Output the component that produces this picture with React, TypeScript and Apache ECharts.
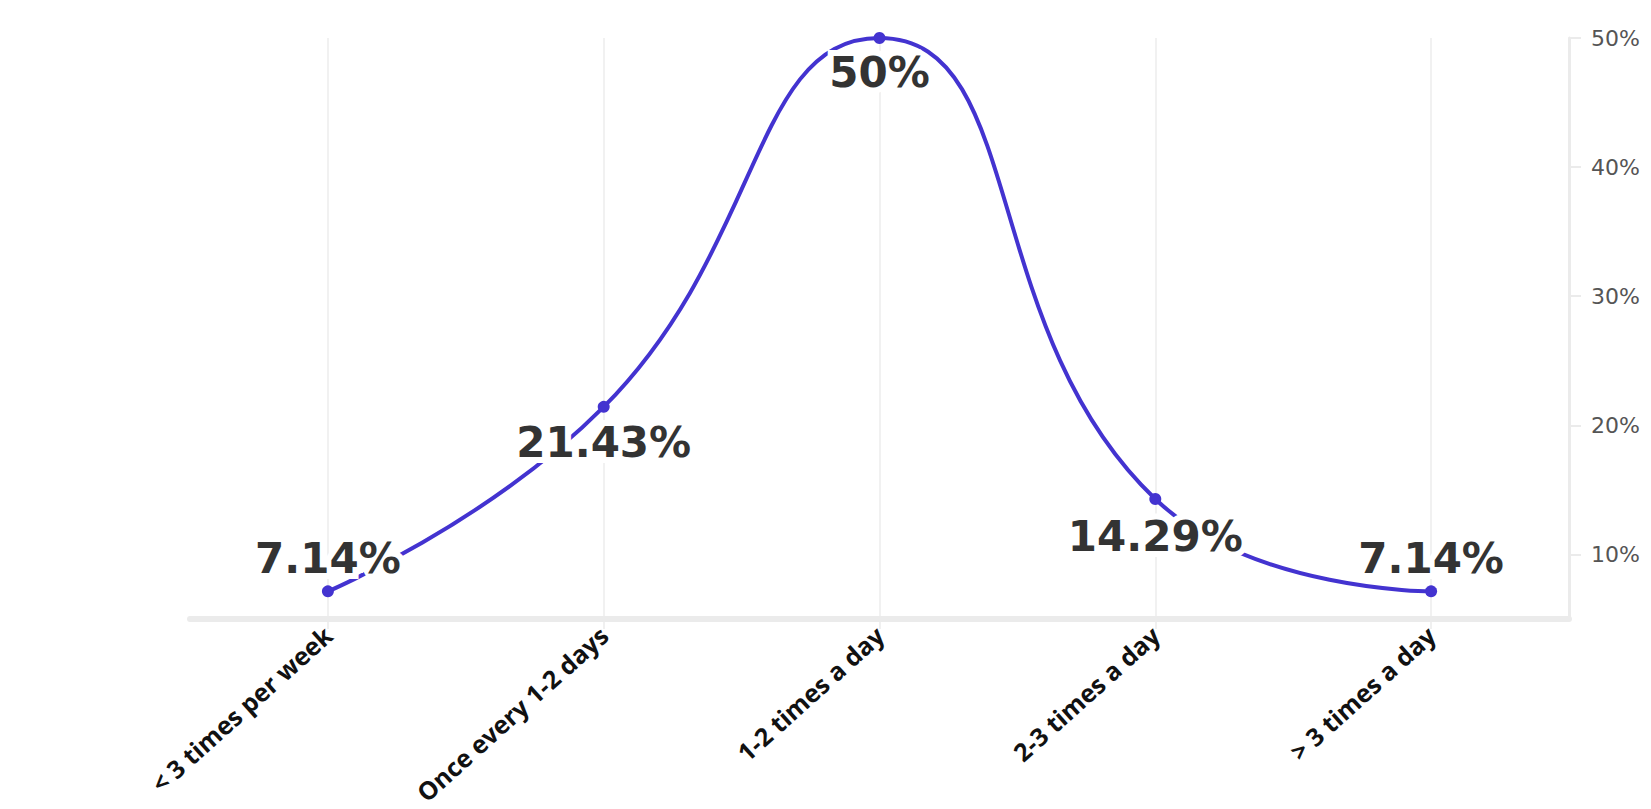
import React, { useEffect, useRef } from "react";
import * as echarts from "echarts";

// Survey answers: how often people do it, share of respondents (%)
const categories = [
  "< 3 times per week",
  "Once every 1-2 days",
  "1-2 times a day",
  "2-3 times a day",
  "> 3 times a day",
];
const shares = [7.14, 21.43, 50, 14.29, 7.14];
const yTicks = [10, 20, 30, 40, 50];

// Vertical nudge of each value label relative to its point (px)
const labelShift = [-33, 36, 34, 37, -33];

const LINE_COLOR = "#4333d0";
const AXIS_GRAY = "#ebebeb";

export default function App() {
  const ref = useRef<HTMLDivElement>(null);

  useEffect(() => {
    if (!ref.current) return;
    const chart = echarts.init(ref.current, null, { renderer: "svg" });

    chart.setOption({
      animation: false,
      backgroundColor: "#ffffff",
      grid: {
        left: 190,
        right: 82,
        top: 38,
        bottom: 190,
        containLabel: false,
        outerBoundsMode: "none",
      },
      xAxis: {
        type: "category",
        data: categories,
        boundaryGap: true,
        axisLine: { show: true, lineStyle: { color: AXIS_GRAY, width: 6 } },
        axisTick: {
          show: true,
          alignWithLabel: true,
          length: 10,
          lineStyle: { color: AXIS_GRAY, width: 1.5 },
        },
        axisLabel: {
          rotate: 42,
          margin: 12,
          color: "#111111",
          fontFamily: "Open Sans",
          fontWeight: "bold",
          fontSize: 25,
        },
        splitLine: { show: false },
      },
      yAxis: {
        type: "value",
        position: "right",
        min: 5,
        max: 50,
        splitLine: { show: false },
        axisLine: { show: true, lineStyle: { color: AXIS_GRAY, width: 3 } },
        axisTick: {
          show: true,
          length: 12,
          customValues: yTicks,
          lineStyle: { color: AXIS_GRAY, width: 2 },
        },
        axisLabel: {
          customValues: yTicks,
          margin: 22,
          color: "#555555",
          fontFamily: "DejaVu Sans",
          fontSize: 22,
          formatter: "{value}%",
        },
      },
      series: [
        {
          type: "line",
          data: shares.map((v, i) => ({
            value: v,
            label: { offset: [0, labelShift[i]] },
          })),
          smooth: 0.5,
          symbol: "circle",
          symbolSize: 12,
          itemStyle: { color: LINE_COLOR },
          lineStyle: { color: LINE_COLOR, width: 4 },
          label: {
            show: true,
            position: "inside",
            formatter: (p: any) => `${p.value}%`,
            color: "#333333",
            fontFamily: "DejaVu Sans",
            fontWeight: "bold",
            fontSize: 42,
            textBorderColor: "#ffffff",
            textBorderWidth: 12,
          },
          markLine: {
            silent: true,
            symbol: ["none", "none"],
            label: { show: false },
            lineStyle: { color: "#ececec", width: 1.5, type: "solid" },
            z: 0,
            data: categories.map((c) => ({ xAxis: c })),
          },
          z: 3,
        },
      ],
    });

    return () => chart.dispose();
  }, []);

  return (
    <div
      ref={ref}
      style={{ position: "absolute", left: 0, top: 0, width: 1651, height: 809 }}
    />
  );
}
